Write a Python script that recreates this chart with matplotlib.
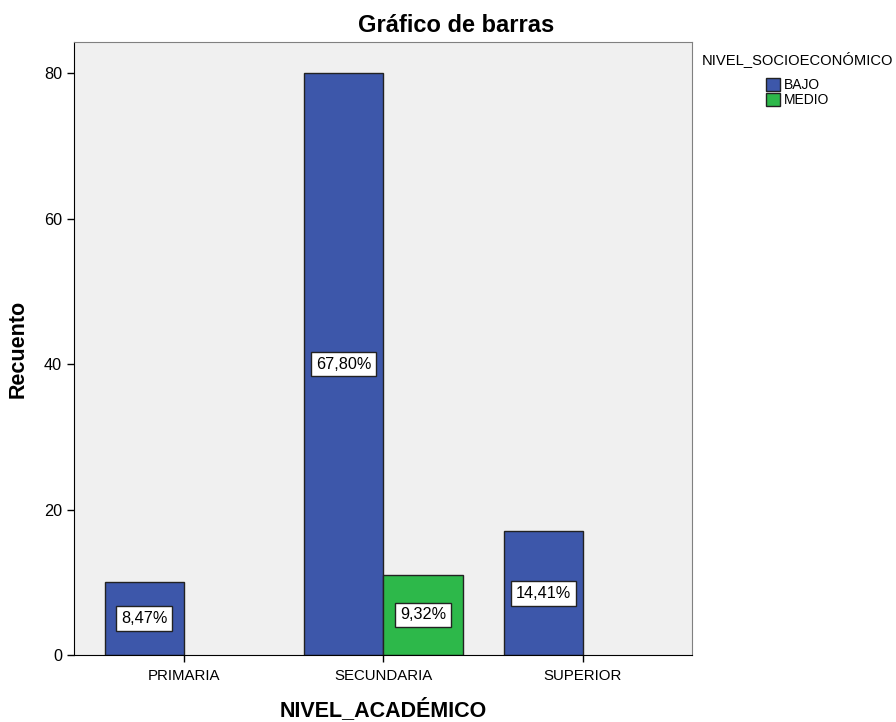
import matplotlib.pyplot as plt
import matplotlib.patches as mpatches
import numpy as np

plt.rcParams['font.family'] = ['Liberation Sans', 'DejaVu Sans']

# data
categories = ["PRIMARIA", "SECUNDARIA", "SUPERIOR"]
bajo = [10, 80, 17]
medio = [0, 11, 0]
bajo_labels = ["8,47%", "67,80%", "14,41%"]
medio_labels = ["", "9,32%", ""]
series_names = ["BAJO", "MEDIO"]
y_ticks = [0, 20, 40, 60, 80]

blue = "#3D57AA"
green = "#2DB84A"

fig = plt.figure(figsize=(8.96, 7.22), dpi=100)
ax = fig.add_axes([0.0826, 0.0928, 0.6894, 0.849])
ax.set_facecolor("#F0F0F0")

x = np.arange(len(categories))
w = 0.397

ax.bar(x - w / 2, bajo, w, color=blue, edgecolor="#222222", linewidth=1)
bars_m = ax.bar(x + w / 2, medio, w, color=green, edgecolor="#222222", linewidth=1)
# hide empty medio bars
for b, v in zip(bars_m, medio):
    if v == 0:
        b.set_visible(False)

box = dict(facecolor="white", edgecolor="#222222", boxstyle="square,pad=0.3", linewidth=1)
for xi, v, lab in zip(x - w / 2, bajo, bajo_labels):
    if lab:
        ax.text(xi, v / 2, lab, ha="center", va="center", fontsize=11.7, bbox=box)
for xi, v, lab in zip(x + w / 2, medio, medio_labels):
    if lab:
        ax.text(xi, v / 2, lab, ha="center", va="center", fontsize=11.7, bbox=box)

ax.set_xlim(-0.551, 2.546)
ax.set_ylim(0, 84.26)
ax.set_xticks(x)
ax.set_xticklabels(categories, fontsize=10.8)
ax.set_yticks(y_ticks)
ax.set_yticklabels([str(t) for t in y_ticks], fontsize=11.7)
ax.tick_params(axis="both", direction="out", length=5, width=1, color="black")
ax.tick_params(axis="x", pad=5)

for s in ["left", "bottom"]:
    ax.spines[s].set_color("black")
for s in ["top", "right"]:
    ax.spines[s].set_color("#808080")

fig.text(0.509, 1 - 32 / 722, "Gráfico de barras", fontsize=17, fontweight="bold",
         ha="center", va="baseline")
ax.set_xlabel("NIVEL_ACADÉMICO", fontsize=15.5, fontweight="bold")
ax.xaxis.set_label_coords(0.5, -0.071)
ax.set_ylabel("Recuento", fontsize=15.5, fontweight="bold")
ax.yaxis.set_label_coords(-0.073, 0.5)

handles = [mpatches.Patch(facecolor=blue, edgecolor="#222222"),
           mpatches.Patch(facecolor=green, edgecolor="#222222")]
leg = fig.legend(handles=handles, labels=series_names, title="NIVEL_SOCIOECONÓMICO",
                 loc="upper center", bbox_to_anchor=(0.89, 0.943), frameon=False,
                 fontsize=10, title_fontsize=10.6, handlelength=1.0, handleheight=1.1,
                 handletextpad=0.3, labelspacing=0.05, borderpad=0.2)
leg._legend_box.sep = 8

fig.savefig("out.png", dpi=100)
